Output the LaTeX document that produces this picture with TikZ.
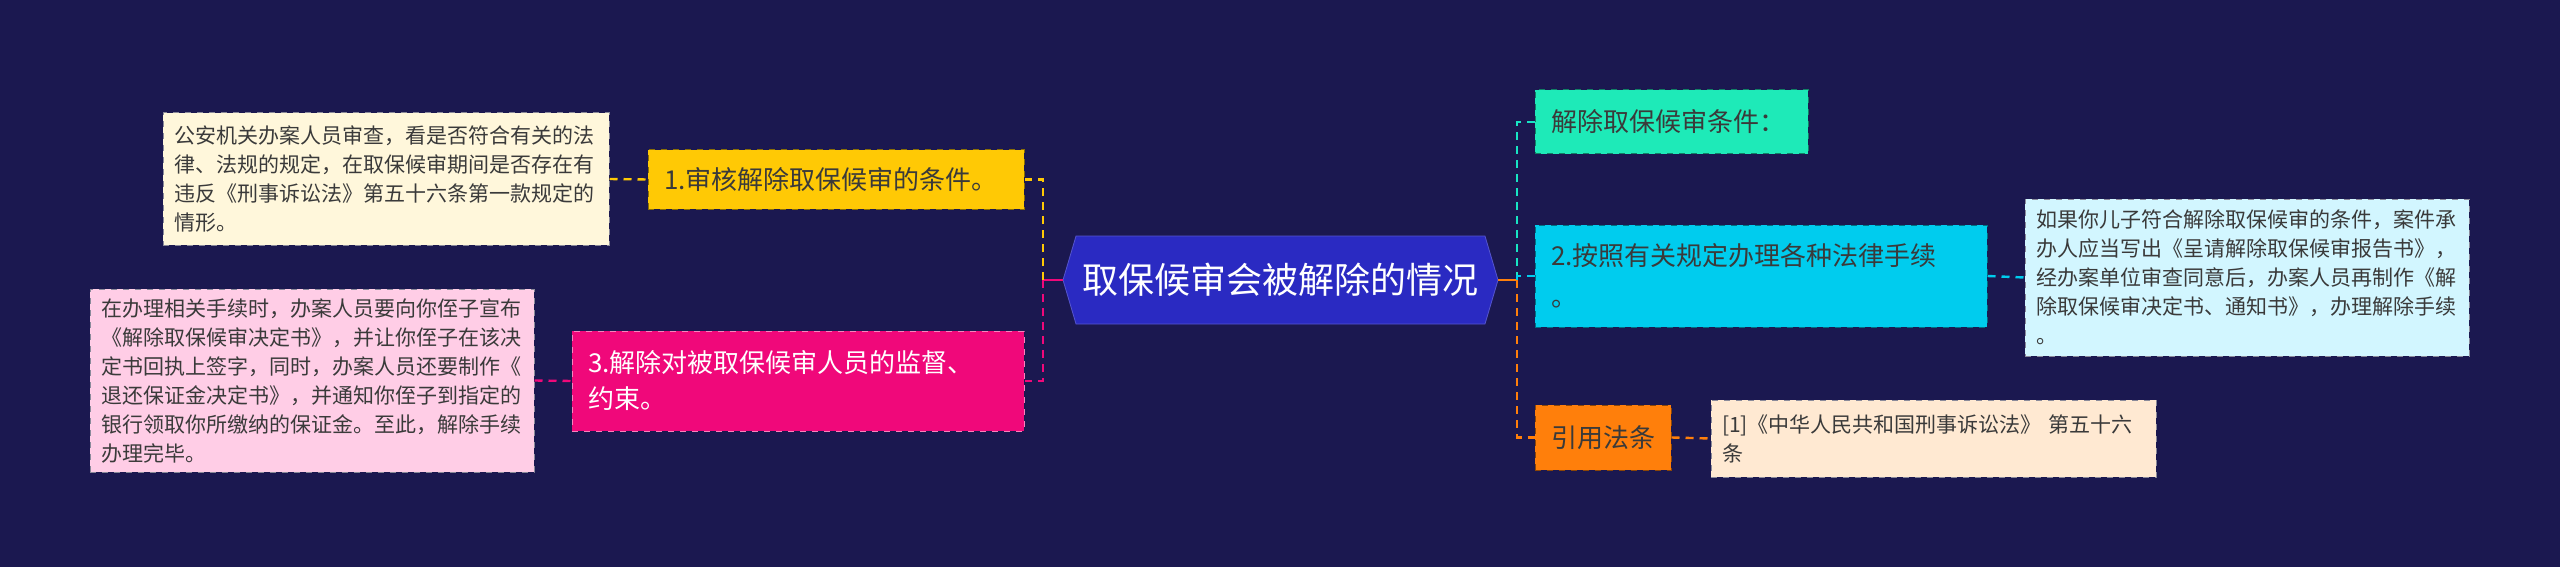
\documentclass[tikz,border=0pt]{standalone}
\usepackage{fontspec}
\setmainfont{Noto Sans CJK SC}
\usepackage{xcolor}
\usetikzlibrary{shapes.symbols}

\definecolor{bgnavy}{HTML}{1B1850}
\definecolor{hexblue}{HTML}{2A2AC2}
\definecolor{textdark}{HTML}{3A3A3A}
\definecolor{notegray}{HTML}{8A8A9A}
\definecolor{yellowbox}{HTML}{FFC905}
\definecolor{yellownote}{HTML}{FFF7DB}
\definecolor{pinkbox}{HTML}{F0087A}
\definecolor{pinknote}{HTML}{FFCDE6}
\definecolor{tealbox}{HTML}{1EEAB8}
\definecolor{cyanbox}{HTML}{00CCEE}
\definecolor{cyannote}{HTML}{D2F6FF}
\definecolor{orangebox}{HTML}{FF7F0B}
\definecolor{orangenote}{HTML}{FFE9D2}

\tikzset{
  topic/.style={draw, dashed, line width=0.5pt, inner xsep=8pt, inner ysep=3pt,
    align=left, text=textdark, font=\fontsize{13}{18}\selectfont},
  note/.style={draw=notegray, dashed, line width=0.5pt, inner xsep=5.5pt, inner ysep=3pt,
    align=left, text=textdark, font=\fontsize{10.5}{14.5}\selectfont},
  link/.style={line width=1.2pt, dash pattern=on 4pt off 3pt},
}

\begin{document}
\begin{tikzpicture}[x=0.5pt, y=-0.5pt]

        \fill[bgnavy] (0,0) rectangle (2560,567);

        % centre
        \node[signal, signal to=west and east, signal pointer angle=147,
          fill=hexblue, draw=hexblue!80!white, text=white, inner sep=0pt,
          minimum width=217.5pt, minimum height=44pt,
          font=\fontsize{18}{22}\selectfont] (root) at (1280.5,280) {取保候审会被解除的情况};

        \coordinate (lj) at (1043,280);
        \coordinate (rj) at (1517,280);

        % left branches
        \node[topic, fill=yellowbox, draw=yellowbox!55!black, text width=172pt,
          minimum height=29.5pt] (cond) at (836,179.5) {1.审核解除取保候审的条件。};
        \node[topic, fill=pinkbox, draw=pinkbox!50!white, text=white, text width=210pt,
          minimum height=50pt] (sup) at (798,381) {3.解除对被取保候审人员的监督、\\约束。};

        \node[note, fill=yellownote, text width=212pt, minimum height=66pt] (n1) at (386,179)
          {公安机关办案人员审查，看是否符合有关的法\\律、法规的规定，在取保候审期间是否存在有\\违反《刑事诉讼法》第五十六条第一款规定的\\情形。};
        \node[note, fill=pinknote, text width=211pt, minimum height=91.5pt] (n3) at (312,380.5)
          {在办理相关手续时，办案人员要向你侄子宣布\\《解除取保候审决定书》，并让你侄子在该决\\定书回执上签字，同时，办案人员还要制作《\\退还保证金决定书》，并通知你侄子到指定的\\银行领取你所缴纳的保证金。至此，解除手续\\办理完毕。};

        % right branches
        \node[topic, fill=tealbox, draw=tealbox!55!black, text width=120.5pt,
          minimum height=32pt] (title) at (1671.5,122) {解除取保候审条件：};
        \node[topic, fill=cyanbox, draw=cyanbox!55!black, text width=210pt,
          minimum height=51pt, font=\fontsize{13}{20.5}\selectfont] (proc) at (1761,276) {2.按照有关规定办理各种法律手续\\。};
        \node[topic, fill=orangebox, draw=orangebox!55!black, text width=52pt,
          minimum height=32.5pt] (cite) at (1603,437.5) {引用法条};

        \node[note, fill=cyannote, text width=211pt, minimum height=78.5pt] (n2) at (2247,277.5)
          {如果你儿子符合解除取保候审的条件，案件承\\办人应当写出《呈请解除取保候审报告书》，\\经办案单位审查同意后，办案人员再制作《解\\除取保候审决定书、通知书》，办理解除手续\\。};
        \node[note, fill=orangenote, text width=211.5pt, minimum height=38.5pt] (n4) at (1933.5,438.5)
          {[1]《中华人民共和国刑事诉讼法》 第五十六\\条};

        % connectors
        \draw[line width=1.2pt, pinkbox] (root.west) -- (lj);
        \draw[link, yellowbox] (lj) |- (cond.east);
        \draw[link, pinkbox] (lj) |- (sup.east);
        \draw[link, yellowbox] (n1.east) -- (cond.west);
        \draw[link, pinkbox] (n3.east) -- (sup.west);

        \draw[line width=1.2pt, orangebox] (root.east) -- (rj);
        \draw[link, tealbox!80!cyanbox] (rj) |- (title.west);
        \draw[link, cyanbox] (rj) |- (proc.west);
        \draw[link, orangebox] (rj) |- (cite.west);
        \draw[link, cyanbox] (proc.east) -- (n2.west);
        \draw[link, orangebox] (cite.east) -- (n4.west);

\end{tikzpicture}
\end{document}
